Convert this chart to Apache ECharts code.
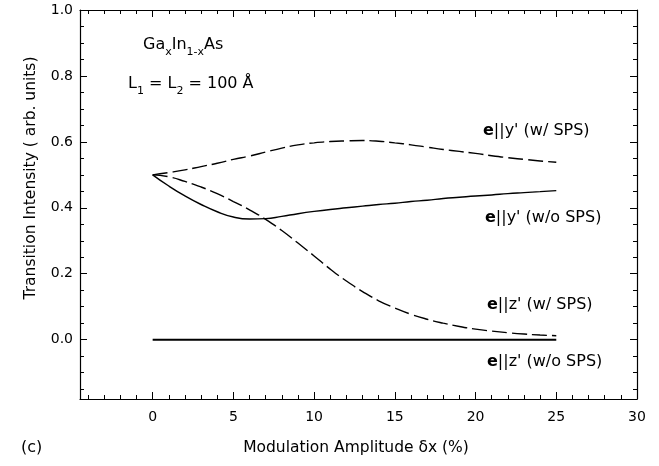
<!DOCTYPE html>
<html lang="en">
<head>
    <meta charset="UTF-8">
    <title>Transition Intensity</title>
    <style>
        html, body { margin: 0; padding: 0; background: #fff; }
        #chart { width: 659px; height: 466px; }
    </style>
</head>
<body>
    <div id="chart"></div>

<script type="text/javascript" src="https://cdn.jsdelivr.net/npm/echarts@6/dist/echarts.min.js"></script>
<script type="text/javascript">
    // 数据
    var amp = [0, 1, 2, 3, 4, 5, 6, 7, 8, 9, 10, 11, 12, 13, 14, 15, 16, 17, 18, 19, 20, 21, 22, 23, 24, 25];
    var yWithSps = [0.500, 0.507, 0.515, 0.525, 0.535, 0.547, 0.557, 0.569, 0.581, 0.591, 0.597, 0.601, 0.603,
        0.604, 0.602, 0.597, 0.591, 0.584, 0.577, 0.571, 0.565, 0.558, 0.552, 0.547, 0.542, 0.538];
    var yNoSps = [0.500, 0.466, 0.436, 0.410, 0.388, 0.372, 0.366, 0.367, 0.374, 0.382, 0.389, 0.395, 0.400,
        0.405, 0.410, 0.414, 0.419, 0.423, 0.428, 0.432, 0.436, 0.439, 0.443, 0.446, 0.449, 0.452];
    var zWithSps = [0.500, 0.494, 0.480, 0.463, 0.443, 0.419, 0.394, 0.365, 0.331, 0.293, 0.254, 0.214, 0.178,
        0.146, 0.118, 0.096, 0.077, 0.062, 0.050, 0.040, 0.032, 0.026, 0.021, 0.017, 0.014, 0.012];
    var zNoSps = [0, 0, 0, 0, 0, 0, 0, 0, 0, 0, 0, 0, 0, 0, 0, 0, 0, 0, 0, 0, 0, 0, 0, 0, 0, 0];

    var xMajor = [0, 5, 10, 15, 20, 25, 30];
    var xMinor = [-4, -3, -2, -1, 1, 2, 3, 4, 6, 7, 8, 9, 11, 12, 13, 14, 16, 17, 18, 19, 21, 22, 23, 24, 26, 27, 28, 29];
    var yMajor = [0, 0.2, 0.4, 0.6, 0.8, 1.0];
    var yMinor = [-0.15, -0.1, -0.05, 0.05, 0.1, 0.15, 0.25, 0.3, 0.35, 0.45, 0.5, 0.55, 0.65, 0.7, 0.75, 0.85, 0.9, 0.95];

    var font = '"DejaVu Sans", Arial, sans-serif';

    var pairs = function (ys) {
        var out = [];
        for (var i = 0; i < amp.length; i++) {
            out.push([amp[i], ys[i]]);
        }
        return out;
    };

    // 轴 (主刻度 / 次刻度)
    var makeX = function (pos, ticks, len, line, labels) {
        return {
            type: 'value', position: pos, min: -4.5, max: 30,
            axisLine: { show: line, onZero: false, lineStyle: { color: '#000', width: 1.2 } },
            axisTick: { show: true, inside: true, length: len, customValues: ticks, lineStyle: { color: '#000' } },
            axisLabel: { show: labels, customValues: xMajor, color: '#000', fontSize: 14, fontFamily: font, margin: 11 },
            splitLine: { show: false }
        };
    };
    var makeY = function (pos, ticks, len, line, labels) {
        return {
            type: 'value', position: pos, min: -0.18, max: 1.0,
            axisLine: { show: line, onZero: false, lineStyle: { color: '#000', width: 1.2 } },
            axisTick: { show: true, inside: true, length: len, customValues: ticks, lineStyle: { color: '#000' } },
            axisLabel: {
                show: labels, customValues: yMajor, color: '#000', fontSize: 14, fontFamily: font, margin: 7,
                formatter: function (v) { return v.toFixed(1); }
            },
            splitLine: { show: false }
        };
    };

    var curveLabel = function (x, y, txt) {
        return {
            type: 'text', x: x, y: y,
            style: {
                text: txt, font: '16px ' + font, fill: '#000', align: 'left', verticalAlign: 'middle',
                rich: { b: { fontWeight: 'bold', fontSize: 16, fontFamily: font } }
            }
        };
    };

    var myChart = echarts.init(document.getElementById('chart'));

    var option = {
        backgroundColor: '#fff',
        animation: false,
        grid: { left: 80, top: 10, right: 22, bottom: 67 },
        xAxis: [
            makeX('bottom', xMajor, 7, true, true),
            makeX('bottom', xMinor, 4, false, false),
            makeX('top', xMajor, 7, true, false),
            makeX('top', xMinor, 4, false, false)
        ],
        yAxis: [
            makeY('left', yMajor, 7, true, true),
            makeY('left', yMinor, 4, false, false),
            makeY('right', yMajor, 7, true, false),
            makeY('right', yMinor, 4, false, false)
        ],
        series: [
            {
                type: 'line', data: pairs(yWithSps), showSymbol: false, smooth: true,
                lineStyle: { color: '#000', width: 1.4, type: [15, 5] }
            },
            {
                type: 'line', data: pairs(yNoSps), showSymbol: false, smooth: true,
                lineStyle: { color: '#000', width: 1.4 }
            },
            {
                type: 'line', data: pairs(zWithSps), showSymbol: false, smooth: true,
                lineStyle: { color: '#000', width: 1.4, type: [15, 5] }
            },
            {
                type: 'line', data: pairs(zNoSps), showSymbol: false,
                lineStyle: { color: '#000', width: 2 }
            }
        ],
        graphic: [
            {
                type: 'text', left: 143, top: 37,
                style: {
                    text: 'Ga{s|x}In{s|1-x}As', font: '16px ' + font, fill: '#000',
                    rich: { s: { fontSize: 11, fontFamily: font, padding: [14, 0, 0, 0] } }
                }
            },
            {
                type: 'text', left: 128, top: 76,
                style: {
                    text: 'L{s|1} = L{s|2} = 100 Å', font: '16px ' + font, fill: '#000',
                    rich: { s: { fontSize: 11, fontFamily: font, padding: [14, 0, 0, 0] } }
                }
            },
            curveLabel(483, 131, "{b|e}||y' (w/ SPS)"),
            curveLabel(485, 218, "{b|e}||y' (w/o SPS)"),
            curveLabel(487, 305, "{b|e}||z' (w/ SPS)"),
            curveLabel(487, 362, "{b|e}||z' (w/o SPS)"),
            {
                type: 'text', x: 31, y: 178, rotation: Math.PI / 2,
                style: {
                    text: 'Transition Intensity ( arb. units)', font: '15.5px ' + font, fill: '#000',
                    align: 'center', verticalAlign: 'middle'
                }
            },
            {
                type: 'text', x: 356, y: 448,
                style: {
                    text: 'Modulation Amplitude δx (%)', font: '15.5px ' + font, fill: '#000',
                    align: 'center', verticalAlign: 'middle'
                }
            },
            {
                type: 'text', x: 21, y: 448,
                style: {
                    text: '(c)', font: '16px ' + font, fill: '#000',
                    align: 'left', verticalAlign: 'middle'
                }
            }
        ]
    };

    myChart.setOption(option);
</script>
</body>
</html>
